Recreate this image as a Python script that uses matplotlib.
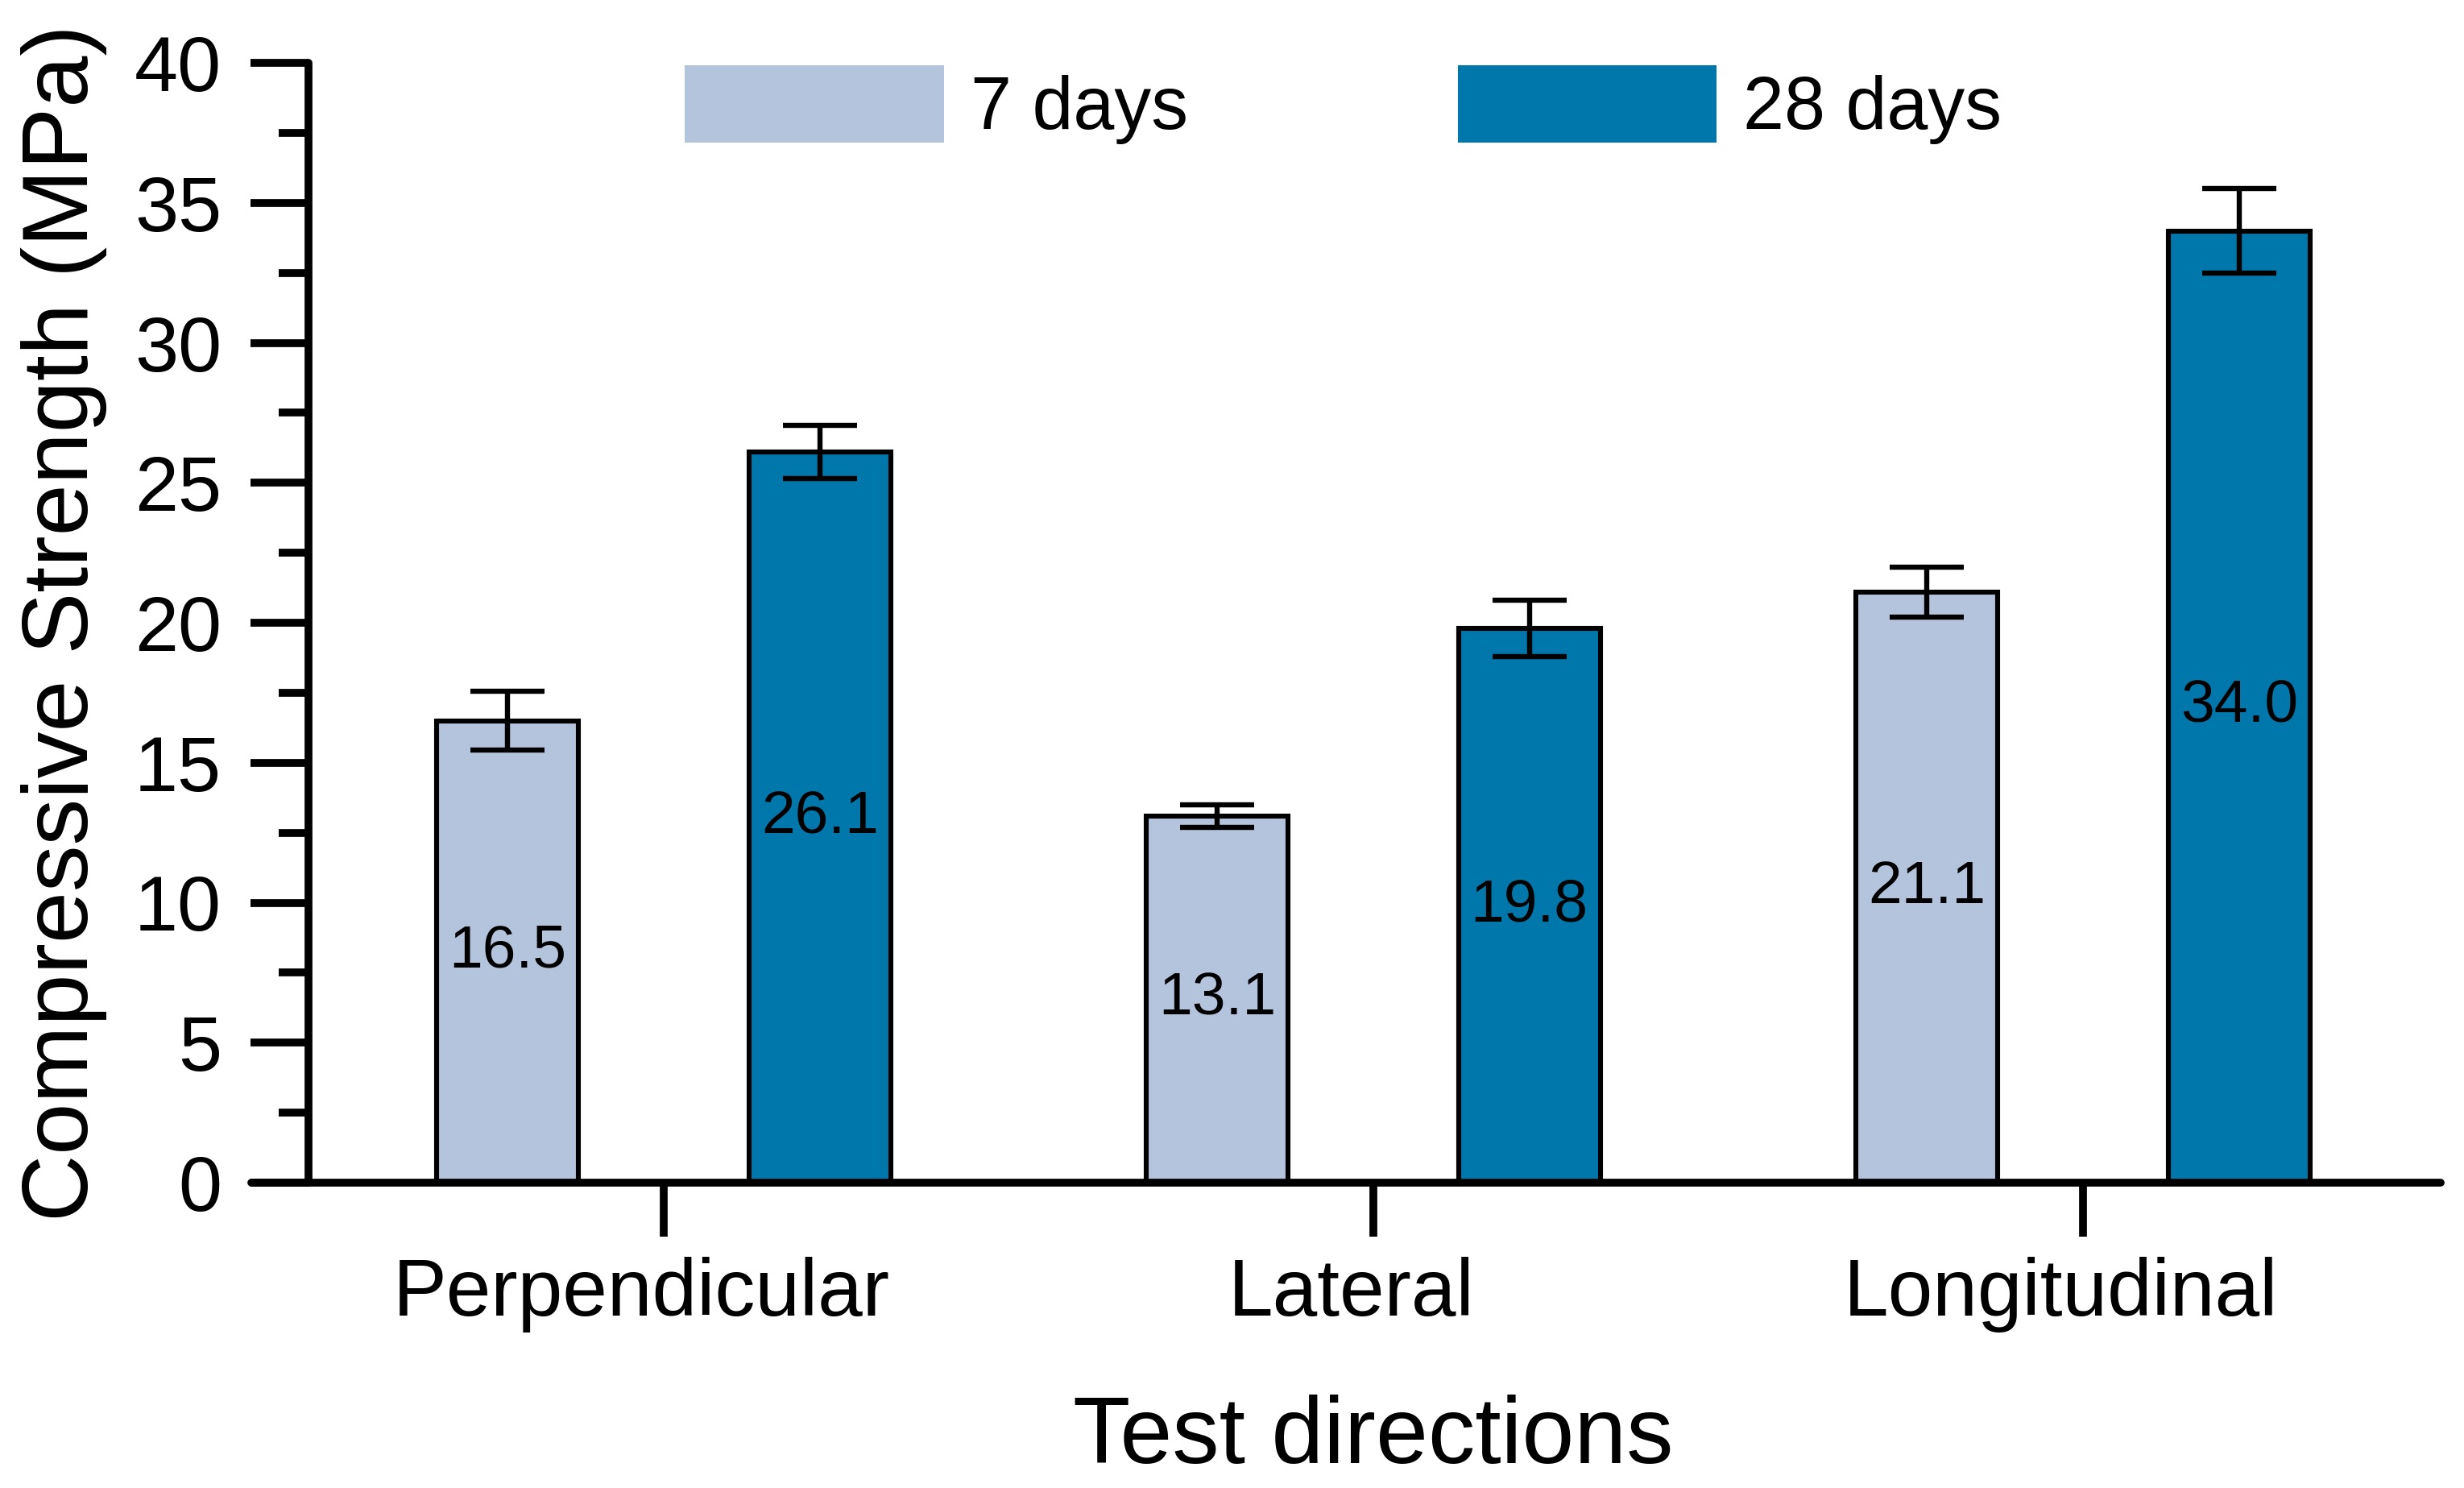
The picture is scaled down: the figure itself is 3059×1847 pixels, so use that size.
import matplotlib
matplotlib.use("Agg")
import matplotlib.pyplot as plt
from matplotlib.patches import Patch
from matplotlib.ticker import MultipleLocator
from matplotlib.transforms import ScaledTranslation
import numpy as np

categories = ["Perpendicular", "Lateral", "Longitudinal"]
series_names = ["7 days", "28 days"]
vals_7 = [16.5, 13.1, 21.1]
vals_28 = [26.1, 19.8, 34.0]
err_7 = [1.05, 0.4, 0.9]
err_28 = [0.95, 1.0, 1.5]
colors = ["#B4C4DC", "#0077AA"]

plt.rcParams['font.family'] = ['Liberation Sans', 'DejaVu Sans']

fig = plt.figure(figsize=(3059/200, 1847/200), dpi=200)
ax = fig.add_axes([312/3059, 1 - 1468/1847, (3030-312)/3059, (1468-78)/1847])

x = np.arange(len(categories))
w = 0.2
off = 0.22
lw_axis = 3.5
xmin, xmax = -0.581, 2.504

for vals, errs, col, sgn in [(vals_7, err_7, colors[0], -1), (vals_28, err_28, colors[1], 1)]:
    pos = x + sgn*off
    ax.bar(pos, vals, width=w, color=col, edgecolor='black', linewidth=2.2, zorder=2)
    ax.errorbar(pos, vals, yerr=errs, fmt='none', ecolor='black', elinewidth=2.3,
                capsize=16.5, capthick=2.3, zorder=3)
    for p, v in zip(pos, vals):
        ax.text(p, v/2, f"{v:.1f}", ha='center', va='center', fontsize=27, color='black', zorder=4)

ax.set_xlim(xmin, xmax)
ax.set_ylim(0, 40)
ax.spines['top'].set_visible(False)
ax.spines['right'].set_visible(False)
ax.spines['left'].set_position(('data', -0.5))
for s in ['left', 'bottom']:
    ax.spines[s].set_linewidth(lw_axis)
    ax.spines[s].set_capstyle('round')

ax.set_xticks(x)
ax.set_xticklabels(categories)
ax.yaxis.set_major_locator(MultipleLocator(5))
ax.yaxis.set_minor_locator(MultipleLocator(2.5))
ax.tick_params(axis='y', which='major', direction='out', length=26, width=lw_axis, labelsize=35, pad=13)
ax.tick_params(axis='y', which='minor', direction='out', length=13.5, width=lw_axis)
ax.tick_params(axis='x', which='major', direction='out', length=24, width=lw_axis, labelsize=36, pad=9)

shift = ScaledTranslation(-10/72, 0, fig.dpi_scale_trans)
for lab in ax.get_xticklabels():
    lab.set_transform(lab.get_transform() + shift)

ax.set_ylabel("Compressive Strength (MPa)", fontsize=41.5, labelpad=12)
ax.set_xlabel("Test directions", fontsize=42, labelpad=28,
              x=(1 - xmin)/(xmax - xmin))

handles = [Patch(facecolor=colors[0], edgecolor='none'), Patch(facecolor=colors[1], edgecolor='none')]
fig.legend(handles, series_names, loc='center', bbox_to_anchor=(0.5452, 0.9295), ncol=2,
           frameon=False, fontsize=33, handlelength=3.51, handleheight=1.234,
           handletextpad=0.36, columnspacing=3.65, borderpad=0)

fig.savefig("out.png", dpi=200)
